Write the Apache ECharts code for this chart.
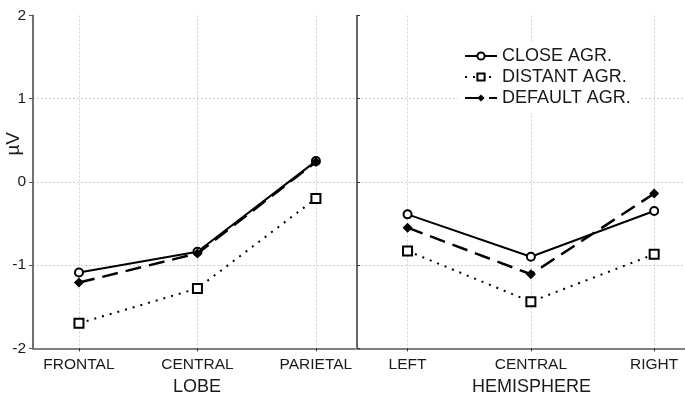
<!DOCTYPE html>
<html>
<head>
<meta charset="utf-8">
<script src="https://cdn.jsdelivr.net/npm/echarts@6/dist/echarts.min.js"></script>
<style>
html,body{margin:0;padding:0;background:#fff;}
#chart{width:685px;height:398px;}
</style>
</head>
<body>
<div id="chart"></div>
<script>
var lobeCategories = ['FRONTAL', 'CENTRAL', 'PARIETAL'];
var hemiCategories = ['LEFT', 'CENTRAL', 'RIGHT'];
var seriesNames = ['CLOSE AGR.', 'DISTANT AGR.', 'DEFAULT AGR.'];

var lobeClose   = [-1.09, -0.84, 0.25];
var lobeDistant = [-1.70, -1.28, -0.20];
var lobeDefault = [-1.21, -0.86, 0.24];

var hemiClose   = [-0.39, -0.90, -0.35];
var hemiDistant = [-0.83, -1.44, -0.87];
var hemiDefault = [-0.55, -1.11, -0.14];

var yTicks = [-2, -1, 0, 1, 2];

function pts(arr) { return arr.map(function (v, i) { return [i, v]; }); }

var FONT = 'Liberation Sans, Arial, sans-serif';
var styles = [
  { lineStyle: { color: '#000', width: 2, type: 'solid' }, symbol: 'emptyCircle', symbolSize: 8, itemStyle: { color: '#000', borderColor: '#000', borderWidth: 1.3 } },
  { lineStyle: { color: '#000', width: 2, type: [2, 6] }, symbol: 'emptyRect', symbolSize: 9, itemStyle: { color: '#000', borderColor: '#000', borderWidth: 1.6 } },
  { lineStyle: { color: '#000', width: 2.5, type: [16, 8] }, symbol: 'diamond', symbolSize: 10, itemStyle: { color: '#000' } }
];

function mkSeries(name, data, idx, axisIdx) {
  var s = styles[seriesNames.indexOf(name)];
  return {
    name: name, type: 'line', xAxisIndex: axisIdx, yAxisIndex: axisIdx,
    data: pts(data), symbol: s.symbol, symbolSize: s.symbolSize,
    showAllSymbol: true, lineStyle: s.lineStyle, itemStyle: s.itemStyle,
    z: 3 + idx, animation: false
  };
}

var gridLine = { show: true, lineStyle: { color: '#cfcfcf', width: 1, type: [2, 2] } };
var hGridLine = { show: true, lineStyle: { color: ['#cfcfcf', '#cfcfcf', '#cfcfcf', '#cfcfcf', 'rgba(0,0,0,0)'], width: 1, type: [2, 2] } };

function xAxis(gi, cats, min, max) {
  return {
    type: 'value', gridIndex: gi, min: min, max: max,
    axisLine: { show: true, onZero: false, lineStyle: { color: '#808080', width: 2 } },
    axisTick: { show: true, customValues: [0, 1, 2], length: 3, lineStyle: { color: '#333' } },
    axisLabel: { show: true, customValues: [0, 1, 2], margin: 8, fontSize: 15.5, color: '#1a1a1a', fontFamily: FONT,
      formatter: function (v) { return cats[Math.round(v)] || ''; } },
    splitLine: gridLine
  };
}

var option = {
  backgroundColor: '#fff',
  animation: false,
  grid: [
    { left: 33, right: 330, top: 15.5, bottom: 49.7 },
    { left: 357, right: 0, top: 15.5, bottom: 49.7 }
  ],
  xAxis: [
    xAxis(0, lobeCategories, -0.388, 2.33),
    xAxis(1, hemiCategories, -0.41, 2.25)
  ],
  yAxis: [
    { type: 'value', gridIndex: 0, min: yTicks[0], max: yTicks[yTicks.length - 1], interval: 1,
      axisLine: { show: true, onZero: false, lineStyle: { color: '#707070', width: 2 } },
      axisTick: { show: true, length: 4, lineStyle: { color: '#555' } },
      axisLabel: { margin: 7, fontSize: 15.5, color: '#1a1a1a', fontFamily: FONT },
      splitLine: hGridLine },
    { type: 'value', gridIndex: 1, min: yTicks[0], max: yTicks[yTicks.length - 1], interval: 1,
      axisLine: { show: true, onZero: false, lineStyle: { color: '#333', width: 1.5 } },
      axisTick: { show: true, inside: true, length: 3, lineStyle: { color: '#333' } },
      axisLabel: { show: false },
      splitLine: hGridLine }
  ],
  legend: {
    data: seriesNames,
    orient: 'vertical', left: 458, top: 41,
    backgroundColor: '#fff',
    padding: [5, 10, 5, 6],
    itemWidth: 32, itemHeight: 9, itemGap: 1,
    textStyle: { fontSize: 18, color: '#1a1a1a', fontFamily: FONT, lineHeight: 20 }
  },
  graphic: [
    { type: 'text', left: 4, top: 132, rotation: Math.PI / 2,
      style: { text: 'µV', fontSize: 19, fill: '#1a1a1a', fontFamily: FONT } },
    { type: 'text', left: 173, top: 378,
      style: { text: 'LOBE', fontSize: 18, fill: '#1a1a1a', fontFamily: FONT } },
    { type: 'text', left: 472, top: 378,
      style: { text: 'HEMISPHERE', fontSize: 18, fill: '#1a1a1a', fontFamily: FONT } }
  ],
  series: [
    mkSeries(seriesNames[0], lobeClose, 0, 0),
    mkSeries(seriesNames[1], lobeDistant, 1, 0),
    mkSeries(seriesNames[2], lobeDefault, 2, 0),
    mkSeries(seriesNames[0], hemiClose, 0, 1),
    mkSeries(seriesNames[1], hemiDistant, 1, 1),
    mkSeries(seriesNames[2], hemiDefault, 2, 1)
  ]
};

var chart = echarts.init(document.getElementById('chart'), null, { renderer: 'canvas' });
chart.setOption(option);
</script>
</body>
</html>
